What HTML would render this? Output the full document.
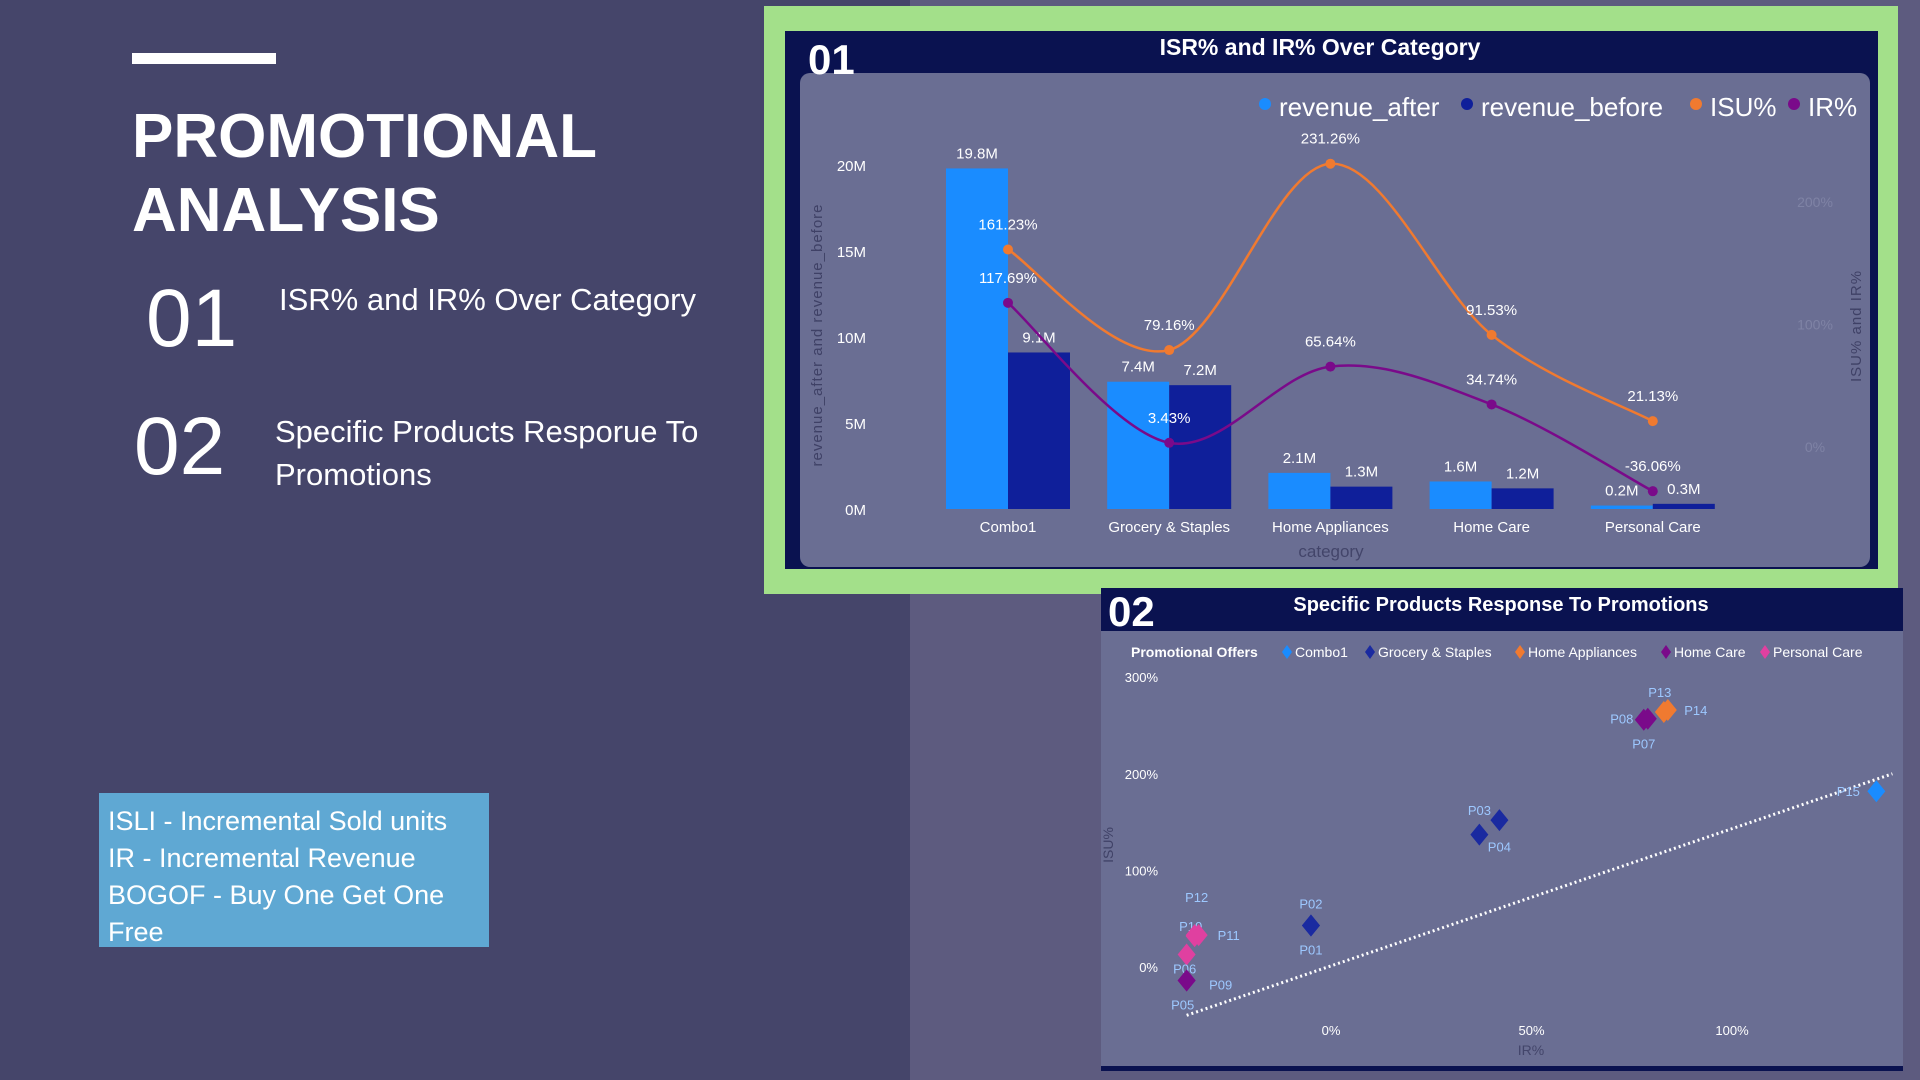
<!DOCTYPE html>
<html><head><meta charset="utf-8">
<style>
*{margin:0;padding:0;box-sizing:border-box}
body{width:1920px;height:1080px;overflow:hidden;background:#45456a;font-family:"Liberation Sans",sans-serif;position:relative}
.abs{position:absolute}
.w{color:#fff}
</style></head><body>
<div class="abs" style="left:910px;top:0;width:1010px;height:1080px;background:#5d5b7f"></div>
<div class="abs" style="left:132px;top:53px;width:144px;height:11px;background:#fff"></div>
<div class="abs w" style="left:132px;top:100px;font-size:62px;font-weight:bold;line-height:74px">PROMOTIONAL<br>ANALYSIS</div>
<div class="abs w" style="left:146px;top:276px;font-size:82px;line-height:86px">01</div>
<div class="abs w" style="left:279px;top:282px;font-size:31px">ISR% and IR% Over Category</div>
<div class="abs w" style="left:134px;top:404px;font-size:82px;line-height:86px">02</div>
<div class="abs w" style="left:275px;top:410px;font-size:31px;line-height:43px">Specific Products Resporue To<br>Promotions</div>
<div class="abs w" style="left:99px;top:793px;width:390px;height:154px;background:#5fa8d3;font-size:27px;line-height:37px;padding:10px 0 0 9px">ISLI - Incremental Sold units<br>IR - Incremental Revenue<br>BOGOF - Buy One Get One<br>Free</div>

<div class="abs" style="left:764px;top:6px;width:1134px;height:588px;background:#a3e08a"></div>
<div class="abs" style="left:785px;top:31px;width:1093px;height:538px;background:#0a1250"></div>
<div class="abs" style="left:800px;top:73px;width:1070px;height:494px;background:#6a6e93;border-radius:10px"></div>
<div class="abs w" style="left:808px;top:36px;font-size:42px;font-weight:bold">01</div>
<div class="abs w" style="left:1320px;top:34px;transform:translateX(-50%);font-size:23px;font-weight:bold;white-space:nowrap">ISR% and IR% Over Category</div>
<svg class="abs" id="c1" style="left:0;top:0" width="1920" height="1080"></svg>

<div class="abs" style="left:1101px;top:588px;width:802px;height:483px;background:#6a6e93;border-bottom:5px solid #0a1250"></div>
<div class="abs" style="left:1101px;top:588px;width:802px;height:43px;background:#0a1250"></div>
<div class="abs w" style="left:1108px;top:588px;font-size:42px;font-weight:bold">02</div>
<div class="abs w" style="left:1501px;top:594px;transform:translateX(-50%);font-size:20px;font-weight:bold;white-space:nowrap">Specific Products Response To Promotions</div>
<svg class="abs" id="c2" style="left:0;top:0" width="1920" height="1080"></svg>

<script>
const categories=["Combo1","Grocery & Staples","Home Appliances","Home Care","Personal Care"];
const revenueAfter=[19.8,7.4,2.1,1.6,0.2];
const revenueBefore=[9.1,7.2,1.3,1.2,0.3];
const isuPct=[161.23,79.16,231.26,91.53,21.13];
const irPct=[117.69,3.43,65.64,34.74,-36.06];
const yTicks=[0,5,10,15,20];
const y2Ticks=[0,100,200];

const products=["P15","P13","P14","P07","P08","P03","P04","P02","P01","P10","P11","P12","P06","P05","P09"];
const prodCategory=["Combo1","Home Appliances","Home Appliances","Home Care","Home Care","Grocery & Staples","Grocery & Staples","Grocery & Staples","Grocery & Staples","Personal Care","Personal Care","Personal Care","Personal Care","Home Care","Home Care"];
const prodIR=[136,83,84,78,79,42,37,-5,-5,-34,-33,-34,-36,-36,-36];
const prodISU=[182,264,266,256,257,152,137,43,43,32,33,33,13,-14,-14];
const xTicks2=[0,50,100];
const yTicks2=[0,100,200,300];
const trendIR=[-36,140];
const trendISU=[-50,200];

const NS="http://www.w3.org/2000/svg";
function mk(svg,tag,attrs,text){const e=document.createElementNS(NS,tag);for(const k in attrs)e.setAttribute(k,attrs[k]);if(text!==undefined)e.textContent=text;svg.appendChild(e);return e;}
function smooth(pts){let d="M"+pts[0][0]+","+pts[0][1];for(let i=0;i<pts.length-1;i++){const p0=pts[i-1]||pts[i],p1=pts[i],p2=pts[i+1],p3=pts[i+2]||p2;const c1=[p1[0]+(p2[0]-p0[0])/6,p1[1]+(p2[1]-p0[1])/6],c2=[p2[0]-(p3[0]-p1[0])/6,p2[1]-(p3[1]-p1[1])/6];d+=" C"+c1+" "+c2+" "+p2;}return d;}

// chart 1
const s1=document.getElementById('c1');
const xC=i=>1008+i*161.2;
const yL=v=>509-v*(344/20);
const yR=v=>447-v*1.225;
const bw=62;
yTicks.forEach(t=>{const e=mk(s1,'text',{x:866,y:yL(t)+6,'text-anchor':'end',fill:'#fff','font-size':15},t+'M');
});
y2Ticks.forEach(t=>{const e=mk(s1,'text',{x:1815,y:yR(t)+5,'text-anchor':'middle',fill:'#7f83a5','font-size':14},t+'%');
});
let e=mk(s1,'text',{x:0,y:0,transform:'translate(822,335) rotate(-90)','text-anchor':'middle',fill:'#3f4166','font-size':15,'letter-spacing':'1'},'revenue_after and revenue_before');

e=mk(s1,'text',{x:0,y:0,transform:'translate(1861,326) rotate(-90)','text-anchor':'middle',fill:'#3f4166','font-size':15,'letter-spacing':'1'},'ISU% and IR%');

e=mk(s1,'text',{x:1331,y:557,'text-anchor':'middle',fill:'#43456a','font-size':17},'category');

categories.forEach((c,i)=>{
 let b=mk(s1,'rect',{x:xC(i)-bw,y:yL(revenueAfter[i]),width:bw,height:yL(0)-yL(revenueAfter[i]),fill:'#1a8cff'});
 
 b=mk(s1,'rect',{x:xC(i),y:yL(revenueBefore[i]),width:bw,height:yL(0)-yL(revenueBefore[i]),fill:'#0f1f9a'});
 
 let t=mk(s1,'text',{x:xC(i)-bw/2,y:yL(revenueAfter[i])-10,'text-anchor':'middle',fill:'#fff','font-size':15},revenueAfter[i]+'M');
 
 t=mk(s1,'text',{x:xC(i)+bw/2,y:yL(revenueBefore[i])-10,'text-anchor':'middle',fill:'#fff','font-size':15},revenueBefore[i]+'M');
 
 t=mk(s1,'text',{x:xC(i),y:532,'text-anchor':'middle',fill:'#fff','font-size':15},c);
 
});
let p=mk(s1,'path',{d:smooth(isuPct.map((v,i)=>[xC(i),yR(v)])),fill:'none',stroke:'#f07a30','stroke-width':2.5});

p=mk(s1,'path',{d:smooth(irPct.map((v,i)=>[xC(i),yR(v)])),fill:'none',stroke:'#7a0a8a','stroke-width':2.5});

isuPct.forEach((v,i)=>{let c=mk(s1,'circle',{cx:xC(i),cy:yR(v),r:5,fill:'#f07a30'});
 
 let t=mk(s1,'text',{x:xC(i),y:yR(v)-20,'text-anchor':'middle',fill:'#fff','font-size':15},v.toFixed(2)+'%');
 });
irPct.forEach((v,i)=>{let c=mk(s1,'circle',{cx:xC(i),cy:yR(v),r:5,fill:'#7a0a8a'});
 
 let t=mk(s1,'text',{x:xC(i),y:yR(v)-20,'text-anchor':'middle',fill:'#fff','font-size':15},v.toFixed(2)+'%');
 });
const leg=[["revenue_after","#1a8cff",1265],["revenue_before","#0f1f9a",1467],["ISU%","#f07a30",1696],["IR%","#7a0a8a",1794]];
leg.forEach(l=>{let c=mk(s1,'circle',{cx:l[2],cy:104,r:6,fill:l[1]});
 
 let t=mk(s1,'text',{x:l[2]+14,y:116,fill:'#fff','font-size':26},l[0]);
 });

// chart 2
const s2=document.getElementById('c2');
const catColor={"Combo1":"#1a8cff","Grocery & Staples":"#1a2aa0","Home Appliances":"#f07a30","Home Care":"#7a0a8a","Personal Care":"#e040a0"};
const px=v=>1331+v*4.01;
const py=v=>967-v*0.966;
xTicks2.forEach(t=>{let e=mk(s2,'text',{x:px(t),y:1035,'text-anchor':'middle',fill:'#fff','font-size':13},t+'%');
 });
yTicks2.forEach(t=>{let e=mk(s2,'text',{x:1158,y:py(t)+5,'text-anchor':'end',fill:'#fff','font-size':13},t+'%');
 });
e=mk(s2,'text',{x:1531,y:1055,'text-anchor':'middle',fill:'#43456a','font-size':14},'IR%');

e=mk(s2,'text',{x:0,y:0,transform:'translate(1113,845) rotate(-90)','text-anchor':'middle',fill:'#3f4166','font-size':14},'ISU%');

let tl=mk(s2,'line',{x1:px(trendIR[0]),y1:py(trendISU[0]),x2:px(trendIR[1]),y2:py(trendISU[1]),stroke:'#fff','stroke-width':3,'stroke-dasharray':'2 3'});

const lblOff=[[-28,0],[-4,-20],[28,0],[0,24],[-26,0],[-20,-10],[20,12],[0,-22],[0,24],[-4,-10],[30,0],[2,-38],[-2,14],[-4,24],[34,4]];
products.forEach((n,i)=>{const x=px(prodIR[i]),y=py(prodISU[i]);
 let d=mk(s2,'path',{d:`M${x},${y-11}L${x+9},${y}L${x},${y+11}L${x-9},${y}Z`,fill:catColor[prodCategory[i]]});
 
 let t=mk(s2,'text',{x:x+lblOff[i][0],y:y+lblOff[i][1]+5,'text-anchor':'middle',fill:'#9dc8ff','font-size':13},n);
 });
let lt=mk(s2,'text',{x:1131,y:657,fill:'#fff','font-size':14,'font-weight':'bold'},'Promotional Offers');

const leg2=[["Combo1",1287],["Grocery & Staples",1370],["Home Appliances",1520],["Home Care",1666],["Personal Care",1765]];
leg2.forEach(l=>{const x=l[1];let d=mk(s2,'path',{d:`M${x},645L${x+5},652L${x},659L${x-5},652Z`,fill:catColor[l[0]]});
 
 let t=mk(s2,'text',{x:x+8,y:657,fill:'#fff','font-size':14},l[0]);
 });
</script>
</body></html>
